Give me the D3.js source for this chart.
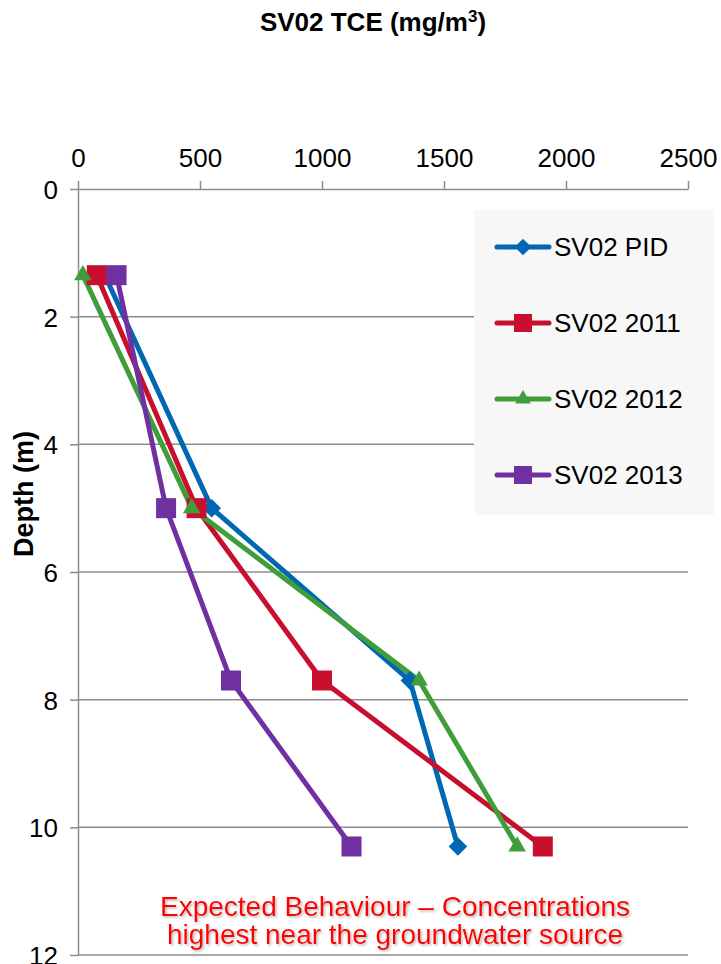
<!DOCTYPE html>
<html>
<head>
<meta charset="utf-8">
<script src="https://cdn.jsdelivr.net/npm/d3@7"></script>
<style>
  body { margin: 0; background: #fff; }
  text { font-family: "Liberation Sans", Arial, sans-serif; }
</style>
</head>
<body>
<script>
// depths of the sample points (m)
var depths = [1.35, 5, 7.7, 10.3];

// TCE concentrations (mg/m3) per series
var pid = [110, 548, 1360, 1557];
var y2011 = [77, 486, 1000, 1905];
var y2012 = [20, 466, 1398, 1800];
var y2013 = [158, 361, 627, 1121];

var seriesNames = ["SV02 PID", "SV02 2011", "SV02 2012", "SV02 2013"];
var seriesColors = ["#0067b3", "#c8102e", "#3f9e3a", "#7030a0"];
var seriesMarkers = ["diamond", "square", "triangle", "square"];

var xTicks = [0, 500, 1000, 1500, 2000, 2500];
var yTicks = [0, 2, 4, 6, 8, 10, 12];

function makeChart() {
  const width = 721;
  const height = 964;
  const left = 78, right = 688, top = 189, bottom = 955;

  const svg = d3.select("body")
                .append("svg")
                .attr("width", width)
                .attr("height", height);

  // soft shadow for the red note
  svg.append("defs")
     .append("filter")
       .attr("id", "shadow")
       .attr("x", "-5%").attr("y", "-20%")
       .attr("width", "110%").attr("height", "140%")
     .append("feDropShadow")
       .attr("dx", 1.5).attr("dy", 1.5)
       .attr("stdDeviation", 0.8)
       .attr("flood-color", "#888")
       .attr("flood-opacity", 0.6);

  let x = d3.scaleLinear().domain([0, 2500]).range([left, right]);
  let y = d3.scaleLinear().domain([0, 12]).range([top, bottom]);

  // gridlines
  svg.append("g")
     .selectAll("line")
     .data(yTicks.slice(1))
     .enter().append("line")
       .attr("x1", left)
       .attr("x2", right)
       .attr("y1", function(d) { return y(d); })
       .attr("y2", function(d) { return y(d); })
       .attr("stroke", "#8c8c8c")
       .attr("stroke-width", 1.5);

  // top x axis
  let xAxis = svg.append("g")
     .attr("transform", "translate(0," + top + ")")
     .call(d3.axisTop(x).tickValues(xTicks).tickFormat(d3.format("d"))
             .tickSize(8).tickSizeOuter(0).tickPadding(14));

  // left y axis
  let yAxis = svg.append("g")
     .attr("transform", "translate(" + left + ",0)")
     .call(d3.axisLeft(y).tickValues(yTicks).tickFormat(d3.format("d"))
             .tickSize(8).tickSizeOuter(0).tickPadding(12));

  [xAxis, yAxis].forEach(function(ax) {
    ax.select(".domain").attr("stroke", "#8c8c8c").attr("stroke-width", 1.5);
    ax.selectAll(".tick line").attr("stroke", "#8c8c8c").attr("stroke-width", 1.5);
    ax.selectAll(".tick text")
      .attr("fill", "#000")
      .style("font-size", "26px")
      .style("font-family", "'Liberation Sans', Arial, sans-serif");
  });
  yAxis.selectAll(".tick text").attr("dy", "0.36em");

  // legend box
  const legend = svg.append("g");
  legend.append("rect")
        .attr("x", 474).attr("y", 210)
        .attr("width", 240).attr("height", 305)
        .attr("fill", "#f7f7f7");

  const allSeries = [pid, y2011, y2012, y2013];

  function marker(sel, type, color, size) {
    if (type === "diamond") {
      sel.append("path")
         .attr("d", d3.symbol().type(d3.symbolDiamond2).size(size * size * 0.55)())
         .attr("fill", color);
    } else if (type === "triangle") {
      sel.append("path")
         .attr("d", d3.symbol().type(d3.symbolTriangle2).size(size * size * 0.55)())
         .attr("fill", color);
    } else {
      sel.append("rect")
         .attr("x", -size / 2).attr("y", -size / 2)
         .attr("width", size).attr("height", size)
         .attr("fill", color);
    }
  }

  let line = d3.line()
               .x(function(d) { return x(d.v); })
               .y(function(d) { return y(d.depth); });

  const plot = svg.append("g");
  allSeries.forEach(function(values, i) {
    let pts = values.map(function(v, j) { return {v: v, depth: depths[j]}; });
    plot.append("path")
        .datum(pts)
        .attr("d", line)
        .attr("fill", "none")
        .attr("stroke", seriesColors[i])
        .attr("stroke-width", 5)
        .attr("stroke-linejoin", "round");
  });
  allSeries.forEach(function(values, i) {
    values.forEach(function(v, j) {
      let g = plot.append("g")
                  .attr("transform", "translate(" + x(v) + "," + y(depths[j]) + ")");
      marker(g, seriesMarkers[i], seriesColors[i], 20);
    });
  });

  // legend entries
  seriesNames.forEach(function(name, i) {
    let ly = 247 + i * 76;
    let g = legend.append("g");
    g.append("line")
     .attr("x1", 497).attr("x2", 549)
     .attr("y1", ly).attr("y2", ly)
     .attr("stroke", seriesColors[i])
     .attr("stroke-width", 5)
     .attr("stroke-linecap", "round");
    let m = g.append("g").attr("transform", "translate(523," + ly + ")");
    marker(m, seriesMarkers[i], seriesColors[i], 18);
    g.append("text")
     .attr("x", 554).attr("y", ly)
     .attr("dy", "0.36em")
     .style("font-size", "26px")
     .text(name);
  });

  // title
  let title = svg.append("text")
     .attr("x", 373).attr("y", 31)
     .attr("text-anchor", "middle")
     .style("font-size", "26px")
     .style("font-weight", "bold");
  title.append("tspan").text("SV02 TCE (mg/m");
  title.append("tspan").attr("dy", "-9").style("font-size", "17px").text("3");
  title.append("tspan").attr("dy", "9").text(")");

  // y axis title
  svg.append("text")
     .attr("transform", "translate(33,494) rotate(-90)")
     .attr("text-anchor", "middle")
     .style("font-size", "27px")
     .style("font-weight", "bold")
     .text("Depth (m)");

  // annotation
  const note = ["Expected Behaviour \u2013 Concentrations", "highest near the groundwater source"];
  let noteText = svg.append("text")
     .attr("text-anchor", "middle")
     .attr("filter", "url(#shadow)")
     .style("font-size", "28px")
     .attr("fill", "#ff0000");
  note.forEach(function(t, i) {
    noteText.append("tspan")
       .attr("x", 395)
       .attr("y", 916 + i * 28)
       .text(t);
  });
}

window.onload = function() {
  makeChart();
};
</script>
</body>
</html>
